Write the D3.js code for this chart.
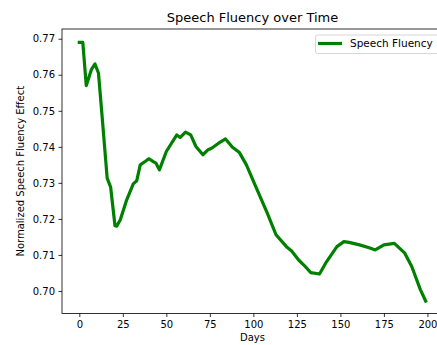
<!DOCTYPE html>
<html lang="en">
<head>
  <meta charset="UTF-8">
  <title>Speech Fluency over Time</title>
  <style>
    body { margin: 0; background: #fff; }
    text { font-family: "DejaVu Sans", sans-serif; fill: #000; }
  </style>
</head>
<body>
  <script src="https://d3js.org/d3.v7.min.js"></script>
  <div id="chart"></div>
  <script>
    // values
    let days = [0, 2, 4, 7, 9, 11, 13, 16, 18, 20.5, 21.5, 23.5, 27, 31, 33, 35, 38, 40, 42.5, 44, 46,
                50, 56, 58, 61, 64, 67, 71, 74, 76, 80, 84, 88, 92, 96, 101, 108, 113, 119, 122, 126,
                129, 133, 138, 142, 148, 152, 155, 161, 167, 170, 175, 181, 187, 191, 196, 199];
    let fluency = [0.769, 0.769, 0.757, 0.7615, 0.763, 0.7605, 0.749, 0.7313, 0.7288, 0.7181, 0.718, 0.7197,
                   0.725, 0.7297, 0.7306, 0.735, 0.736, 0.7367, 0.7359, 0.7355, 0.7336,
                   0.7387, 0.7433, 0.7426, 0.7441, 0.7433, 0.7401, 0.7378, 0.7392, 0.7396, 0.741, 0.7422,
                   0.7399, 0.7384, 0.735, 0.7294, 0.7216, 0.7156, 0.7123, 0.7111, 0.7086,
                   0.7072, 0.7051, 0.7047, 0.7081, 0.7123, 0.7137, 0.7135, 0.7128, 0.7119, 0.7114,
                   0.7128, 0.7132, 0.7105, 0.7068, 0.7003, 0.6972];
    let xTicks = [0, 25, 50, 75, 100, 125, 150, 175, 200];
    let yTicks = [0.70, 0.71, 0.72, 0.73, 0.74, 0.75, 0.76, 0.77];

    function translate(x, y) { return 'translate(' + x + ',' + y + ')'; }

    let W = 437, H = 345;
    let plotLeft = 62, plotRight = 443, plotTop = 29, plotBottom = 313.5;

    let data = days.map((d, i) => ({ day: d, value: fluency[i] }));

    let svg = d3.select("#chart")
      .append("svg")
        .attr("width", W)
        .attr("height", H);

    let x = d3.scaleLinear()
      .domain([-9.95, 208.95])
      .range([plotLeft, plotRight]);

    let y = d3.scaleLinear()
      .domain([0.69375, 0.7727])
      .range([plotBottom, plotTop]);

    // axes
    let xAxis = svg.append("g")
      .attr("transform", translate(0, plotBottom))
      .call(d3.axisBottom(x).tickValues(xTicks).tickSize(3.5).tickPadding(3.5).tickFormat(d3.format("d")));

    let yAxis = svg.append("g")
      .attr("transform", translate(plotLeft, 0))
      .call(d3.axisLeft(y).tickValues(yTicks).tickSize(3.5).tickPadding(3.5).tickFormat(d3.format(".2f")));

    [xAxis, yAxis].forEach(g => {
      g.select(".domain").remove();
      g.selectAll("line").attr("stroke", "#000").attr("stroke-width", 0.8);
      g.selectAll("text").style("font-size", "10px").style("font-family", "DejaVu Sans");
    });

    // frame
    svg.append("rect")
      .attr("x", plotLeft)
      .attr("y", plotTop)
      .attr("width", plotRight - plotLeft)
      .attr("height", plotBottom - plotTop)
      .attr("fill", "none")
      .attr("stroke", "#000")
      .attr("stroke-width", 0.8);

    // the line
    svg.append("path")
      .datum(data)
      .attr("fill", "none")
      .attr("stroke", "#008000")
      .attr("stroke-width", 3.2)
      .attr("stroke-linejoin", "round")
      .attr("stroke-linecap", "square")
      .attr("d", d3.line()
        .x(d => x(d.day))
        .y(d => y(d.value))
      );

    // titles
    svg.append("text")
      .attr("x", (plotLeft + plotRight) / 2)
      .attr("y", 22)
      .attr("text-anchor", "middle")
      .style("font-size", "13px")
      .text("Speech Fluency over Time");

    svg.append("text")
      .attr("x", (plotLeft + plotRight) / 2)
      .attr("y", 341)
      .attr("text-anchor", "middle")
      .style("font-size", "10px")
      .text("Days");

    svg.append("text")
      .attr("transform", translate(24, (plotTop + plotBottom) / 2) + " rotate(-90)")
      .attr("text-anchor", "middle")
      .style("font-size", "10px")
      .text("Normalized Speech Fluency Effect");

    // legend
    let legend = svg.append("g").attr("transform", translate(315.5, 35));

    legend.append("rect")
      .attr("width", 135)
      .attr("height", 18.5)
      .attr("rx", 2)
      .attr("fill", "#fff")
      .attr("fill-opacity", 0.8)
      .attr("stroke", "#ccc")
      .attr("stroke-width", 0.8);

    legend.append("line")
      .attr("x1", 2.5)
      .attr("x2", 26.5)
      .attr("y1", 8.5)
      .attr("y2", 8.5)
      .attr("stroke", "#008000")
      .attr("stroke-width", 3.2);

    legend.append("text")
      .attr("x", 34.5)
      .attr("y", 12.3)
      .style("font-size", "10.5px")
      .text("Speech Fluency");
  </script>
</body>
</html>
